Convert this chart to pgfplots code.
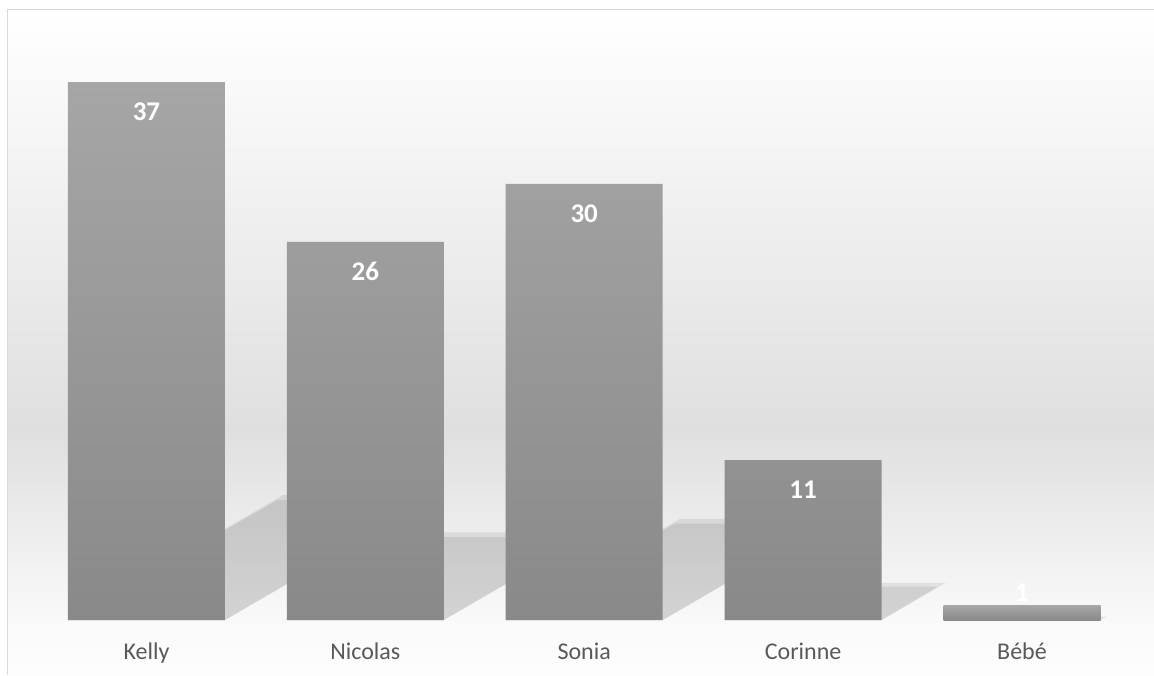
\documentclass[border=0pt]{standalone}
\usepackage{pgfplots}
\pgfplotsset{compat=1.18}
\usepackage{fontspec}
\setmainfont{Carlito}
\definecolor{bgmid}{HTML}{DFDFDF}
\definecolor{bglow}{HTML}{FAFAFA}
\definecolor{bgbot}{HTML}{FDFDFD}
\definecolor{frame}{HTML}{D9D9D9}
\definecolor{barTop}{HTML}{A6A6A6}
\definecolor{barBot}{HTML}{898989}
\definecolor{txt}{HTML}{595959}
\begin{document}
\begin{tikzpicture}
\useasboundingbox (0pt,0pt) rectangle (1154pt,675pt);
% background
\shade[top color=white, bottom color=bgmid, draw=none] (8pt,245pt) rectangle (1154pt,665pt);
\shade[top color=bgmid, bottom color=bglow, draw=none] (8pt,50pt) rectangle (1154pt,245.5pt);
\shade[top color=bglow, bottom color=bgbot, draw=none] (8pt,0pt) rectangle (1154pt,50.5pt);
\draw[frame, line width=1.5pt] (7.5pt,0pt) -- (7.5pt,665.5pt) -- (1154pt,665.5pt);
\begin{axis}[
  at={(37pt,55pt)}, anchor=south west,
  width=1094.5pt, height=581.6pt, scale only axis,
  xmin=-0.5, xmax=4.5, ymin=0, ymax=40,
  axis line style={draw=none},
  tick style={draw=none},
  major tick length=0pt,
  ytick=\empty,
  xtick={0,1,2,3,4},
  xticklabels={Kelly,Nicolas,Sonia,Corinne,Bébé},
  xticklabel style={anchor=base, yshift=-39pt, text=txt, font=\fontsize{24}{28}\selectfont},
  xticklabel shift=0pt,
  /pgf/number format/assume math mode=true,
  clip=false,
]
% shadows (soft: layered)
\addplot[draw=none, fill=black, fill opacity=0.08] coordinates {(-0.359,0) (0.359,0) (1.341,8.58) (0.623,8.58)} -- cycle;
\addplot[draw=none, fill=black, fill opacity=0.08] coordinates {(-0.359,0) (0.359,0) (1.300,8.25) (0.600,8.25)} -- cycle;
\addplot[draw=none, fill=black, fill opacity=0.08] coordinates {(0.641,0) (1.359,0) (2.049,6.03) (1.331,6.03)} -- cycle;
\addplot[draw=none, fill=black, fill opacity=0.08] coordinates {(0.641,0) (1.359,0) (2.010,5.70) (1.310,5.70)} -- cycle;
\addplot[draw=none, fill=black, fill opacity=0.08] coordinates {(1.641,0) (2.359,0) (3.156,6.96) (2.438,6.96)} -- cycle;
\addplot[draw=none, fill=black, fill opacity=0.08] coordinates {(1.641,0) (2.359,0) (3.115,6.63) (2.415,6.63)} -- cycle;
\addplot[draw=none, fill=black, fill opacity=0.08] coordinates {(2.641,0) (3.359,0) (3.651,2.55) (2.933,2.55)} -- cycle;
\addplot[draw=none, fill=black, fill opacity=0.08] coordinates {(2.641,0) (3.359,0) (3.615,2.30) (2.915,2.30)} -- cycle;
\addplot[draw=none, fill=black, fill opacity=0.10] coordinates {(3.641,0) (4.359,0) (4.386,0.23) (3.668,0.23)} -- cycle;
% bars
\addplot[ybar, bar width=157pt, bar shift=0pt, draw=none, top color=barTop, bottom color=barBot,
  nodes near coords,
  every node near coord/.append style={anchor=base, yshift=-38.5pt, text=white, font=\fontsize{27}{32}\selectfont\bfseries}]
  coordinates {(0,37) (1,26) (2,30) (3,11)};
\addplot[ybar, bar width=157pt, bar shift=0pt, draw=none, top color=barTop, bottom color=barBot,
  nodes near coords,
  every node near coord/.append style={anchor=base, yshift=4pt, text=white, font=\fontsize{27}{32}\selectfont\bfseries}]
  coordinates {(4,1)};
\end{axis}
\end{tikzpicture}
\end{document}
